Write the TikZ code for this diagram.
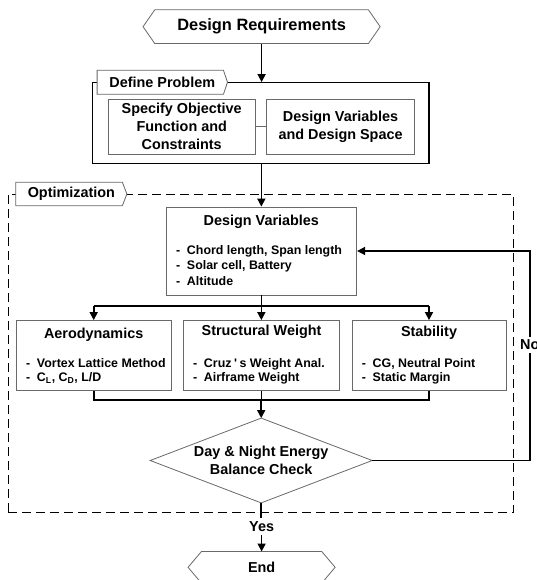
\documentclass[tikz,border=0pt]{standalone}
\usepackage{fontspec}
\setmainfont{Liberation Sans}
\usetikzlibrary{arrows.meta,calc}
\definecolor{boxgray}{RGB}{105,105,105}
\newcommand\fmain{\fontsize{14.4pt}{18pt}\selectfont\bfseries}
\newcommand\fbul{\fontsize{12.4pt}{14pt}\selectfont\bfseries}
\newcommand\fbig{\fontsize{16.4pt}{19pt}\selectfont\bfseries}
\newcommand\bl{\makebox[10.8pt][l]{-}}
\begin{document}
\begin{tikzpicture}[x=1pt,y=-1pt,
  gbox/.style={draw=boxgray,line width=0.8pt,fill=white,inner sep=0pt},
  arr/.style={line width=1.6pt,-{Triangle[length=8pt,width=8pt]}},
  conn/.style={line width=1.6pt},
  shapeline/.style={draw=boxgray,line width=0.8pt,fill=white},
  frame/.style={inner sep=0pt},
  title/.style={font=\fmain,anchor=base,inner sep=0pt},
  bullet/.style={font=\fbul,anchor=base west,inner sep=0pt},
  lbl/.style={font=\fmain,fill=white,inner xsep=1pt,inner ysep=3pt}]
\useasboundingbox (0,0) rectangle (536,580);

% ---------- Design Requirements ----------
\node[frame,minimum width=236.7pt,minimum height=33.3pt] (req) at (261.6,26.7) {};
\draw[shapeline] (req.west) -- ($(req.north west)+(11.7,0)$) -- ($(req.north east)+(-11.7,0)$)
  -- (req.east) -- ($(req.south east)+(-11.7,0)$) -- ($(req.south west)+(11.7,0)$) -- cycle;
\node[font=\fbig,inner sep=0pt] (reqtext) at (req.center) {Design Requirements};

% ---------- Define Problem ----------
\node[draw=black,line width=1.2pt,frame,minimum width=336.3pt,minimum height=80.6pt] (defbox) at (260.85,123) {};
\node[frame,minimum width=130pt,minimum height=23.5pt] (deftab) at (162.3,82.25) {};
\draw[shapeline] (deftab.north west) -- ($(deftab.north east)+(-4,0)$) -- (deftab.east)
  -- ($(deftab.south east)+(-4,0)$) -- (deftab.south west) -- cycle;
\node[font=\fmain,inner sep=0pt] (deftabtext) at (deftab.center) {Define Problem};

\node[gbox,minimum width=147.4pt,minimum height=54.7pt,align=center,font=\fmain] (spec) at (181.7,126.65)
  {Specify Objective\\Function and\\Constraints};
\node[gbox,minimum width=147.7pt,minimum height=54.7pt,align=center,font=\fmain] (dvds) at (340.55,126.65)
  {Design Variables\\and Design Space};
\draw[draw=boxgray,line width=1.2pt] (spec.east) -- (dvds.west);

\draw[arr] (req.south) -- (req.south |- defbox.north);

% ---------- Optimization ----------
\node[draw=black,dashed,dash pattern=on 9pt off 5pt,line width=1pt,frame,
  minimum width=505.1pt,minimum height=318.5pt] (optbox) at (260.75,353.25) {};
\node[frame,minimum width=110.7pt,minimum height=23pt] (opttab) at (71.35,194) {};
\draw[shapeline] (opttab.north west) -- ($(opttab.north east)+(-4.5,0)$) -- (opttab.east)
  -- ($(opttab.south east)+(-4.5,0)$) -- (opttab.south west) -- cycle;
\node[font=\fmain,inner sep=0pt] (opttabtext) at (opttab.center) {Optimization};

% Design Variables
\node[gbox,minimum width=190.7pt,minimum height=88pt] (dv) at (261.35,251) {};
\node[title] (dvt) at (261.35,225.2) {Design Variables};
\node[bullet] (dvb1) at (176,254) {\bl Chord length, Span length};
\node[bullet] (dvb2) at (176,269) {\bl Solar cell, Battery};
\node[bullet] (dvb3) at (176,285.5) {\bl Altitude};

\draw[arr] (defbox.south -| dv.north) -- (dv.north);

% three analysis boxes
\node[gbox,minimum width=154.6pt,minimum height=70.2pt] (aero) at (93.7,355.6) {};
\node[gbox,minimum width=155.9pt,minimum height=70.2pt] (struct) at (261.55,355.6) {};
\node[gbox,minimum width=154pt,minimum height=70.2pt] (stab) at (429,355.6) {};

\node[title] (aerot) at (93.7,338.5) {Aerodynamics};
\node[title] (structt) at (261.55,335.7) {Structural Weight};
\node[title] (stabt) at (429,336.7) {Stability};

\node[bullet] (aerob1) at (26,367.4) {\bl Vortex Lattice Method};
\node[bullet] (aerob2) at (26,381.4) {\bl C\textsubscript{L}, C\textsubscript{D}, L/D};
\node[bullet] (structb1) at (193,367.4) {\bl Cruz\hspace{2.5pt}\textquotesingle\hspace{2.5pt}s Weight Anal.};
\node[bullet] (structb2) at (193,381.4) {\bl Airframe Weight};
\node[bullet] (stabb1) at (361.7,367.4) {\bl CG, Neutral Point};
\node[bullet] (stabb2) at (361.7,381.4) {\bl Static Margin};

% branch
\coordinate (br) at (261.35,306);
\draw[conn] (dv.south) -- (br);
\draw[conn] (aero.north |- br) -- (stab.north |- br);
\draw[arr] (aero.north |- br) -- (aero.north);
\draw[arr] (br) -- (br |- struct.north);
\draw[arr] (stab.north |- br) -- (stab.north);

% diamond
\node[frame,minimum width=221.6pt,minimum height=84.4pt] (dia) at (261.2,460.5) {};
\draw[shapeline] (dia.west) -- (dia.north) -- (dia.east) -- (dia.south) -- cycle;
\node[align=center,inner sep=0pt,font=\fontsize{14.4pt}{17.5pt}\selectfont\bfseries] (diatext) at (dia.center)
  {Day \& Night Energy\\Balance Check};

% merge
\coordinate (mg) at (261.2,400);
\draw[conn] (aero.south) -- (aero.south |- mg) -- (stab.south |- mg) -- (stab.south);
\draw[conn] (struct.south) -- (struct.south |- mg);
\draw[arr] (mg) -- (dia.north);

% feedback (No)
\coordinate (fbbot) at (529.8,460.5);
\coordinate (fbtop) at (529.8,251);
\node[lbl] (no) at (529.8,345) {No};
\draw[conn] (dia.east) -- (fbbot) -- (no.south);
\draw[arr] (no.north) -- (fbtop) -- (dv.east |- fbtop);

% End
\node[frame,minimum width=146.7pt,minimum height=31.2pt] (endn) at (261.6,567.3) {};
\draw[shapeline] (endn.west) -- ($(endn.north west)+(13.4,0)$) -- ($(endn.north east)+(-13.4,0)$)
  -- (endn.east) -- ($(endn.south east)+(-13.4,0)$) -- ($(endn.south west)+(13.4,0)$) -- cycle;
\node[font=\fmain,inner sep=0pt] (endtext) at (endn.center) {End};

\node[lbl] (yes) at (261.6,526.7) {Yes};
\draw[conn] (dia.south) -- (yes.north -| dia.south);
\draw[arr] (yes.south -| endn.north) -- (endn.north);
\end{tikzpicture}
\end{document}
